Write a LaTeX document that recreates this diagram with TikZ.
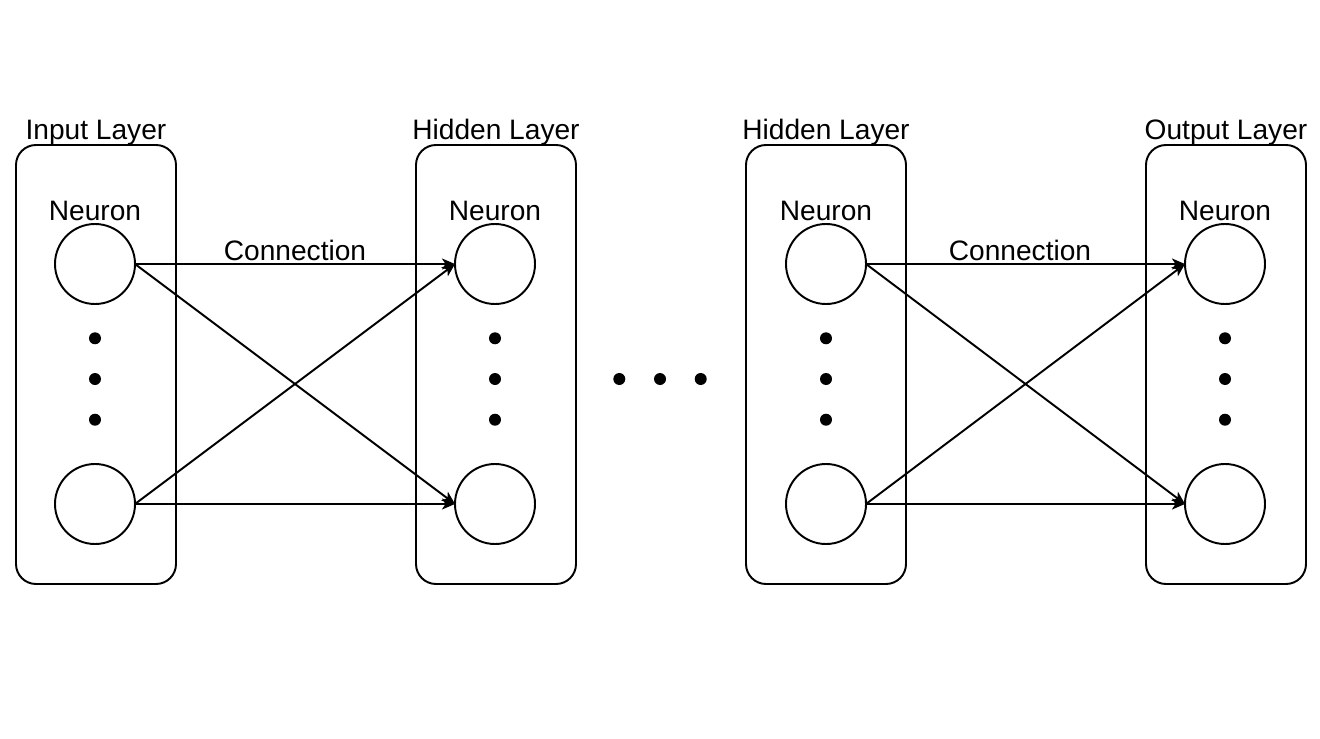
\documentclass[tikz,border=0pt]{standalone}
\usepackage{fontspec}
\setmainfont{Liberation Sans}
\usetikzlibrary{positioning, arrows.meta}

\tikzset{
    layerbox/.style={draw, line width=1.1pt, rounded corners=0.4cm, minimum width=3.2cm, minimum height=8.78cm, outer sep=0pt},
    neuron/.style={draw, circle, line width=1.1pt, minimum size=1.6cm, inner sep=0pt, outer sep=0pt},
    vdot/.style={circle, fill=black, minimum size=0.24cm, inner sep=0pt},
    conn/.style={-{Stealth[length=0.26cm, width=0.22cm, inset=0.07cm]}, line width=1.1pt},
    txt/.style={font=\fontsize{16}{19}\selectfont, inner sep=0pt, anchor=base}
}

\begin{document}
\begin{tikzpicture}[]
\useasboundingbox (0,0) rectangle (26.4,-14.78);

\node[layerbox] (l0) at (1.92,-7.29) {};
\node[layerbox] (l1) at (9.92,-7.29) {};
\node[layerbox] (l2) at (16.52,-7.29) {};
\node[layerbox] (l3) at (24.52,-7.29) {};

\node[txt] (t0) at (1.92,-2.79) {Input Layer};
\node[txt] (t1) at (9.92,-2.79) {Hidden Layer};
\node[txt] (t2) at (16.52,-2.79) {Hidden Layer};
\node[txt] (t3) at (24.52,-2.79) {Output Layer};

\node[neuron] (n0a) at (1.9,-5.28) {};
\node[neuron] (n0b) [below=3.2cm of n0a] {};
\node[neuron] (n1a) at (9.9,-5.28) {};
\node[neuron] (n1b) [below=3.2cm of n1a] {};
\node[neuron] (n2a) at (16.52,-5.28) {};
\node[neuron] (n2b) [below=3.2cm of n2a] {};
\node[neuron] (n3a) at (24.5,-5.28) {};
\node[neuron] (n3b) [below=3.2cm of n3a] {};

\node[txt] (r0) at (1.9,-4.4) {Neuron};
\node[txt] (r1) at (9.9,-4.4) {Neuron};
\node[txt] (r2) at (16.52,-4.4) {Neuron};
\node[txt] (r3) at (24.5,-4.4) {Neuron};

% vertical dots
\node[vdot] (d0b) at (1.9,-7.58) {};
\node[vdot] (d0a) [above=0.56cm of d0b] {};
\node[vdot] (d0c) [below=0.56cm of d0b] {};
\node[vdot] (d1b) at (9.9,-7.58) {};
\node[vdot] (d1a) [above=0.56cm of d1b] {};
\node[vdot] (d1c) [below=0.56cm of d1b] {};
\node[vdot] (d2b) at (16.52,-7.58) {};
\node[vdot] (d2a) [above=0.56cm of d2b] {};
\node[vdot] (d2c) [below=0.56cm of d2b] {};
\node[vdot] (d3b) at (24.5,-7.58) {};
\node[vdot] (d3a) [above=0.56cm of d3b] {};
\node[vdot] (d3c) [below=0.56cm of d3b] {};

% dots between layers
\node[vdot] (m1) at (13.2,-7.58) {};
\node[vdot] (m0) [left=0.56cm of m1] {};
\node[vdot] (m2) [right=0.56cm of m1] {};

\node[txt] (c0) at (5.9,-5.2) {Connection};
\node[txt] (c1) at (20.4,-5.2) {Connection};

\draw[conn] (n0a.east) -- (n1a.west);
\draw[conn] (n0a.east) -- (n1b.west);
\draw[conn] (n0b.east) -- (n1a.west);
\draw[conn] (n0b.east) -- (n1b.west);
\draw[conn] (n2a.east) -- (n3a.west);
\draw[conn] (n2a.east) -- (n3b.west);
\draw[conn] (n2b.east) -- (n3a.west);
\draw[conn] (n2b.east) -- (n3b.west);
\end{tikzpicture}
\end{document}
